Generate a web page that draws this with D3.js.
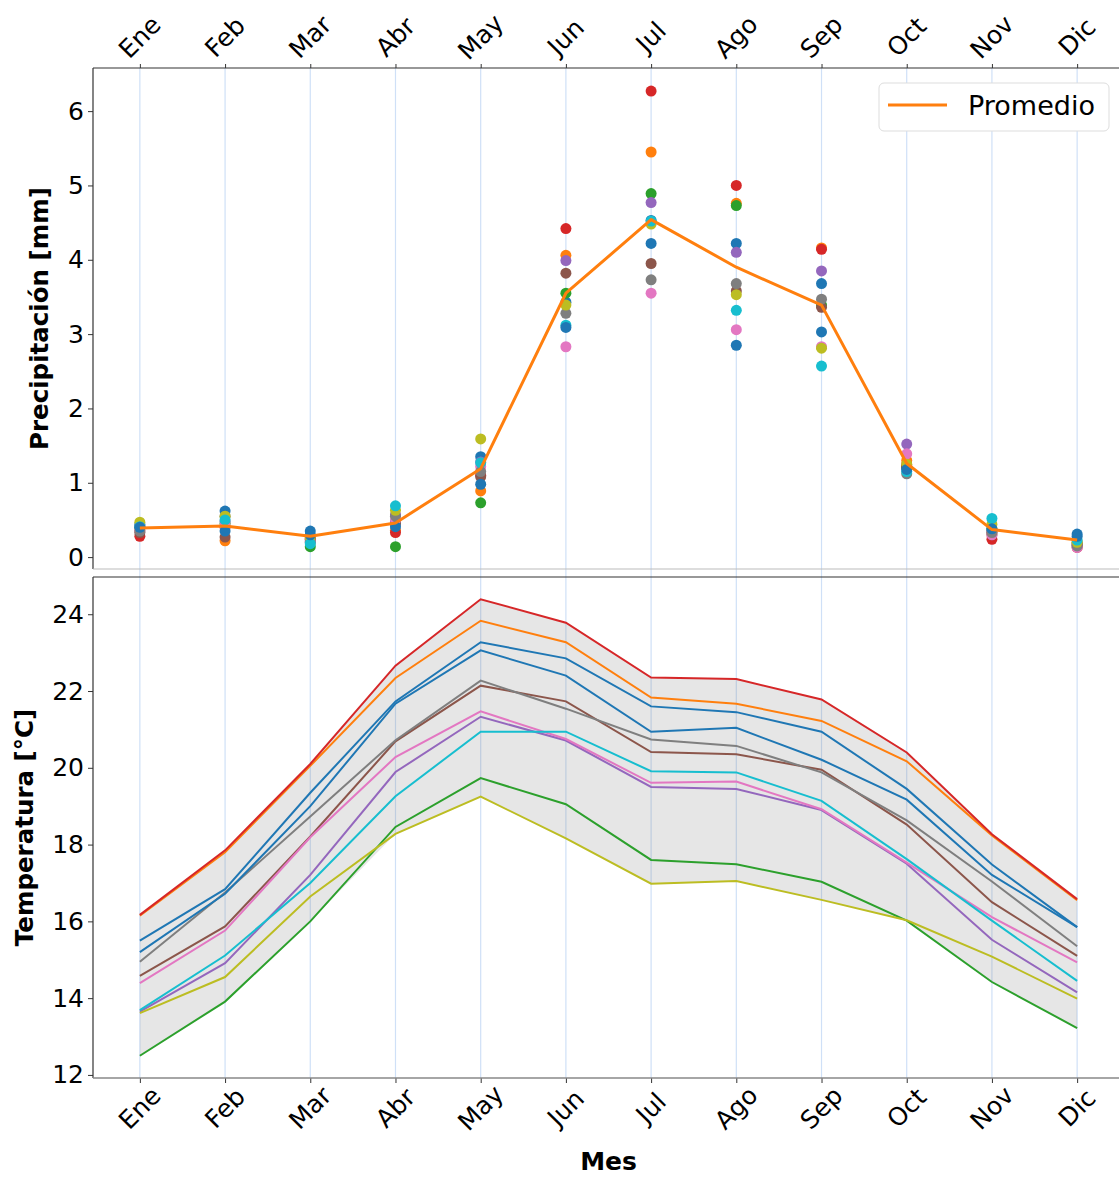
<!DOCTYPE html>
<html>
<head>
<meta charset="utf-8">
<script src="https://cdn.jsdelivr.net/npm/d3@7"></script>
<style>
  body { margin: 0; background: #fff; }
  svg { display: block; font-family: "DejaVu Sans", sans-serif; }
</style>
</head>
<body>
<div id="chart"></div>
<script>
// month labels
const months = ["Ene", "Feb", "Mar", "Abr", "May", "Jun", "Jul", "Ago", "Sep", "Oct", "Nov", "Dic"];

// tab10 cycle, the 11th series wraps back to blue
const seriesColors = ["#1f77b4", "#ff7f0e", "#2ca02c", "#d62728", "#9467bd", "#8c564b",
                      "#e377c2", "#7f7f7f", "#bcbd22", "#17becf", "#1f77b4"];

// precipitation per series [mm], Ene..Dic
const precip = [
  [0.44, 0.62, 0.35, 0.48, 1.35, 3.43, 4.53, 4.22, 3.68, 1.21, 0.36, 0.31],
  [0.38, 0.22, 0.27, 0.36, 0.89, 4.06, 5.45, 4.76, 4.16, 1.30, 0.33, 0.20],
  [0.40, 0.45, 0.14, 0.14, 0.73, 3.55, 4.89, 4.73, 3.39, 1.22, 0.38, 0.18],
  [0.28, 0.40, 0.25, 0.33, 1.10, 4.42, 6.27, 5.00, 4.14, 1.24, 0.24, 0.13],
  [0.42, 0.48, 0.22, 0.57, 1.28, 3.99, 4.77, 4.10, 3.85, 1.52, 0.34, 0.17],
  [0.33, 0.27, 0.24, 0.45, 1.08, 3.82, 3.95, 3.58, 3.36, 1.20, 0.30, 0.16],
  [0.36, 0.42, 0.21, 0.50, 1.22, 2.83, 3.55, 3.06, 2.83, 1.39, 0.30, 0.13],
  [0.35, 0.55, 0.20, 0.55, 1.15, 3.28, 3.73, 3.68, 3.47, 1.12, 0.33, 0.15],
  [0.47, 0.55, 0.27, 0.63, 1.59, 3.39, 4.48, 3.53, 2.81, 1.25, 0.44, 0.20],
  [0.41, 0.50, 0.18, 0.69, 1.27, 3.12, 4.52, 3.32, 2.57, 1.15, 0.52, 0.23],
  [0.40, 0.35, 0.30, 0.41, 0.98, 3.09, 4.22, 2.85, 3.03, 1.18, 0.38, 0.28]
];

// average line
const promedio = [0.39, 0.42, 0.28, 0.46, 1.19, 3.55, 4.54, 3.90, 3.39, 1.26, 0.37, 0.23];

// temperature per series [°C], Ene..Dic
const temp = [
  [15.50, 16.84, 19.35, 21.73, 23.27, 22.85, 21.60, 21.45, 20.94, 19.45, 17.48, 15.85],
  [16.15, 17.80, 20.05, 22.34, 23.83, 23.27, 21.83, 21.67, 21.22, 20.17, 18.24, 16.55],
  [12.50, 13.91, 16.00, 18.46, 19.73, 19.05, 17.60, 17.49, 17.03, 16.02, 14.42, 13.22],
  [16.17, 17.85, 20.10, 22.66, 24.39, 23.78, 22.35, 22.31, 21.78, 20.40, 18.27, 16.58],
  [13.65, 14.91, 17.21, 19.89, 21.33, 20.71, 19.50, 19.45, 18.90, 17.50, 15.52, 14.15],
  [14.58, 15.87, 18.21, 20.69, 22.14, 21.73, 20.41, 20.35, 19.95, 18.52, 16.50, 15.10],
  [14.39, 15.76, 18.19, 20.28, 21.47, 20.75, 19.61, 19.64, 18.92, 17.53, 16.11, 14.93],
  [14.95, 16.75, 18.73, 20.72, 22.27, 21.54, 20.74, 20.57, 19.88, 18.63, 17.04, 15.35],
  [13.61, 14.55, 16.65, 18.28, 19.25, 18.16, 16.98, 17.05, 16.56, 16.03, 15.08, 13.99],
  [13.69, 15.11, 17.00, 19.26, 20.94, 20.94, 19.91, 19.88, 19.14, 17.62, 16.02, 14.45],
  [15.20, 16.72, 19.00, 21.67, 23.06, 22.40, 20.94, 21.04, 20.21, 19.17, 17.21, 15.85]
];

const precipTicks = [0, 1, 2, 3, 4, 5, 6];
const tempTicks = [12, 14, 16, 18, 20, 22, 24];

const width = 1119, height = 1178;
const left = 93, right = 1124;
const top1 = 68, bottom1 = 569;
const top2 = 577, bottom2 = 1078;
const fontSize = 25;

const svg = d3.select("#chart").append("svg")
    .attr("width", width)
    .attr("height", height);

const x = d3.scaleLinear()
    .domain([-0.55, 11.55])
    .range([left, right]);

const yP = d3.scaleLinear()
    .domain([-0.16, 6.58])
    .range([bottom1, top1]);

const yT = d3.scaleLinear()
    .domain([11.92, 24.97])
    .range([bottom2, top2]);

// vertical grid through both panels
svg.append("g").classed("grid", true)
    .selectAll("line")
    .data(months)
    .enter().append("line")
        .attr("x1", (d, i) => x(i))
        .attr("x2", (d, i) => x(i))
        .attr("y1", top1)
        .attr("y2", bottom2)
        .style("stroke", "#cfe0f7")
        .style("stroke-width", 1.2);

// ---------- top panel: precipitation ----------
const p1 = svg.append("g").classed("precip", true);

p1.append("g")
    .attr("transform", `translate(${left},0)`)
    .call(d3.axisLeft(yP).tickValues(precipTicks).tickFormat(d3.format("d")).tickSize(5).tickPadding(4))
    .call(g => g.select(".domain").remove());

p1.append("g")
    .attr("transform", `translate(0,${top1})`)
    .call(d3.axisTop(x).tickValues(d3.range(12)).tickSize(4).tickFormat(""))
    .call(g => g.select(".domain").remove());

const dots = p1.append("g").classed("dots", true);
precip.forEach((vals, s) => {
    dots.selectAll(null)
        .data(vals)
        .enter().append("circle")
            .attr("cx", (d, i) => x(i))
            .attr("cy", d => yP(d))
            .attr("r", 5.5)
            .style("fill", seriesColors[s]);
});

const avgLine = d3.line()
    .x((d, i) => x(i))
    .y(d => yP(d));

p1.append("path")
    .datum(promedio)
    .attr("d", avgLine)
    .style("fill", "none")
    .style("stroke", "#ff7f0e")
    .style("stroke-width", 3)
    .style("stroke-linejoin", "round");

// spines
p1.append("line").attr("x1", left).attr("x2", right).attr("y1", top1).attr("y2", top1)
    .style("stroke", "#333").style("stroke-width", 1.2);
p1.append("line").attr("x1", left).attr("x2", left).attr("y1", top1).attr("y2", bottom1)
    .style("stroke", "#333").style("stroke-width", 1.2);
p1.append("line").attr("x1", left).attr("x2", right).attr("y1", bottom1).attr("y2", bottom1)
    .style("stroke", "#bbb").style("stroke-width", 1.2);

// top month labels
p1.append("g").selectAll("text")
    .data(months)
    .enter().append("text")
        .attr("transform", (d, i) => `translate(${x(i)},37) rotate(-45)`)
        .attr("text-anchor", "middle")
        .attr("dominant-baseline", "central")
        .style("font-size", fontSize + "px")
        .text(d => d);

// legend
const leg = p1.append("g").attr("transform", "translate(879,83)");
leg.append("rect")
    .attr("width", 230).attr("height", 48).attr("rx", 5)
    .style("fill", "#fff").style("stroke", "#ddd").style("stroke-width", 1);
leg.append("line")
    .attr("x1", 9).attr("x2", 68).attr("y1", 22).attr("y2", 22)
    .style("stroke", "#ff7f0e").style("stroke-width", 3);
leg.append("text")
    .attr("x", 89).attr("y", 22)
    .attr("dominant-baseline", "central")
    .style("font-size", "27px")
    .text("Promedio");

p1.append("text")
    .attr("transform", `translate(48,${(top1 + bottom1) / 2}) rotate(-90)`)
    .attr("text-anchor", "middle")
    .style("font-size", "24.5px")
    .style("font-weight", "bold")
    .text("Precipitación [mm]");

// ---------- bottom panel: temperature ----------
const p2 = svg.append("g").classed("temp", true);

const band = d3.area()
    .x((d, i) => x(i))
    .y0((d, i) => yT(d3.min(temp, s => s[i])))
    .y1((d, i) => yT(d3.max(temp, s => s[i])));

p2.append("path")
    .datum(months)
    .attr("d", band)
    .style("fill", "#808080")
    .style("fill-opacity", 0.2);

const tLine = d3.line()
    .x((d, i) => x(i))
    .y(d => yT(d));

p2.append("g").selectAll("path")
    .data(temp)
    .enter().append("path")
        .attr("d", tLine)
        .style("fill", "none")
        .style("stroke", (d, i) => seriesColors[i])
        .style("stroke-width", 2);

p2.append("g")
    .attr("transform", `translate(${left},0)`)
    .call(d3.axisLeft(yT).tickValues(tempTicks).tickSize(5).tickPadding(4))
    .call(g => g.select(".domain").remove());

p2.append("g")
    .attr("transform", `translate(0,${bottom2})`)
    .call(d3.axisBottom(x).tickValues(d3.range(12)).tickSize(5).tickFormat(""))
    .call(g => g.select(".domain").remove());

p2.append("line").attr("x1", left).attr("x2", right).attr("y1", top2).attr("y2", top2)
    .style("stroke", "#333").style("stroke-width", 1.2);
p2.append("line").attr("x1", left).attr("x2", left).attr("y1", top2).attr("y2", bottom2)
    .style("stroke", "#333").style("stroke-width", 1.2);
p2.append("line").attr("x1", left).attr("x2", right).attr("y1", bottom2).attr("y2", bottom2)
    .style("stroke", "#888").style("stroke-width", 1.5);

p2.append("g").selectAll("text")
    .data(months)
    .enter().append("text")
        .attr("transform", (d, i) => `translate(${x(i)},1108) rotate(-45)`)
        .attr("text-anchor", "middle")
        .attr("dominant-baseline", "central")
        .style("font-size", fontSize + "px")
        .text(d => d);

p2.append("text")
    .attr("transform", `translate(33,${(top2 + bottom2) / 2}) rotate(-90)`)
    .attr("text-anchor", "middle")
    .style("font-size", "24.5px")
    .style("font-weight", "bold")
    .text("Temperatura [°C]");

p2.append("text")
    .attr("x", (left + right) / 2)
    .attr("y", 1170)
    .attr("text-anchor", "middle")
    .style("font-size", fontSize + "px")
    .style("font-weight", "bold")
    .text("Mes");

// axis text styling
svg.selectAll(".tick text")
    .style("font-size", fontSize + "px")
    .style("font-family", "DejaVu Sans, sans-serif")
    .style("fill", "#000");
svg.selectAll(".tick line").style("stroke", "#333");
</script>
</body>
</html>
